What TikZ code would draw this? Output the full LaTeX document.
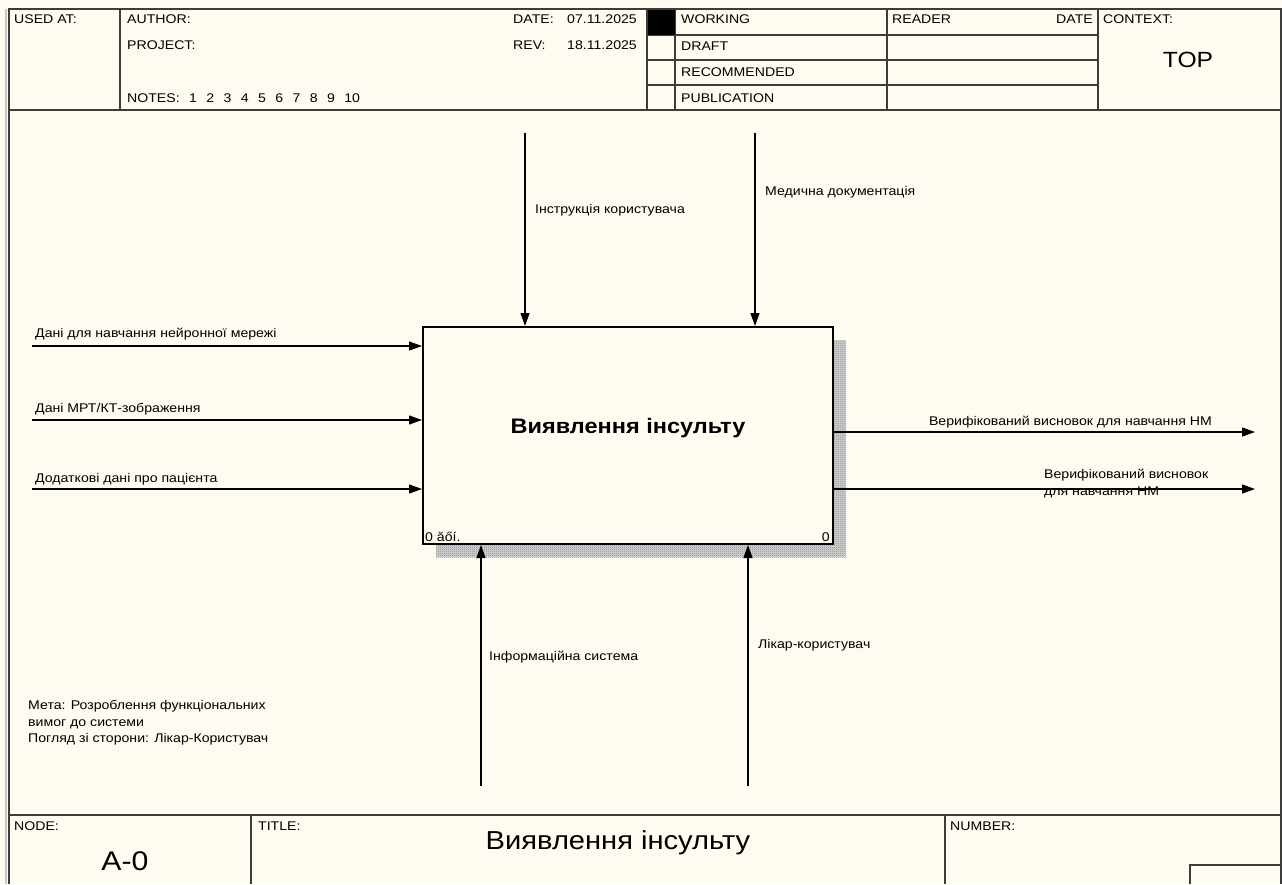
\documentclass[tikz,border=0pt]{standalone}
\usepackage{fontspec}
\setmainfont[FakeStretch=1.12]{Liberation Sans}
\usetikzlibrary{arrows.meta,patterns}
\definecolor{paper}{RGB}{255,251,240}
\definecolor{rulecol}{RGB}{60,60,60}

% fine checkerboard used for the box shadow
\pgfdeclarepatternformonly{finechecker}{\pgfqpoint{0pt}{0pt}}{\pgfqpoint{2pt}{2pt}}{\pgfqpoint{2pt}{2pt}}{%
  \pgfpathrectangle{\pgfqpoint{0pt}{0pt}}{\pgfqpoint{1pt}{1pt}}%
  \pgfpathrectangle{\pgfqpoint{1pt}{1pt}}{\pgfqpoint{1pt}{1pt}}%
  \pgfusepath{fill}}

\newcommand{\gap}{\hspace{9.4pt}}

\begin{document}
\begin{tikzpicture}[x=1pt,y=-1pt,
  frame/.style={draw=rulecol,line width=1.3pt},
  txt/.style={anchor=west,inner sep=0pt,font=\fontsize{12.6}{15}\selectfont},
  txtr/.style={anchor=east,inner sep=0pt,font=\fontsize{12.6}{15}\selectfont},
  big/.style={inner sep=0pt,font=\fontsize{22}{26}\selectfont},
  flow/.style={line width=1.2pt,-{Triangle[length=13pt,width=9pt]}},
  funcbox/.style={draw=black,line width=2pt,fill=paper,minimum width=410pt,minimum height=217pt,inner sep=0pt}
]
% page
\useasboundingbox (0,0) rectangle (1282,884);
\fill[paper] (0,0) rectangle (1282,884);

% outer frame
\draw[gray!45,line width=2pt] (6,9) -- (6,884);
\draw[frame] (9,884) -- (9,9) -- (1281,9) -- (1281,884);

% ---------- header ----------
\draw[frame] (9,110) -- (1281,110);
\draw[frame] (120,9) -- (120,110);
\draw[frame] (647,9) -- (647,110);
\draw[frame] (675,9) -- (675,110);
\draw[frame] (887,9) -- (887,110);
\draw[frame] (1098,9) -- (1098,110);
\foreach \yy in {35,60,85} \draw[frame] (647,\yy) -- (1098,\yy);
\fill[black] (648,10) rectangle (675,35);

\node[txt] (usedat) at (14,19) {USED AT:};
\node[txt] (author) at (127,19) {AUTHOR:};
\node[txt] (project) at (127,45) {PROJECT:};
\node[txt] (notes) at (127,98) {NOTES:\gap 1\gap 2\gap 3\gap 4\gap 5\gap 6\gap 7\gap 8\gap 9\gap 10};
\node[txt] (datelbl) at (513,19) {DATE:};
\node[txtr] (dateval) at (637,19) {07.11.2025};
\node[txt] (revlbl) at (513,45) {REV:};
\node[txtr] (revval) at (637,45) {18.11.2025};
\node[txt] (working) at (681,19) {WORKING};
\node[txt] (draft) at (681,46) {DRAFT};
\node[txt] (recom) at (681,72) {RECOMMENDED};
\node[txt] (publ) at (681,98) {PUBLICATION};
\node[txt] (reader) at (892,19) {READER};
\node[txtr] (rdate) at (1093,19) {DATE};
\node[txt] (context) at (1103,19) {CONTEXT:};
\node[big] (top) at (1188,60) {TOP};

% ---------- function box ----------
\fill[black!18] (436,340) rectangle (846,557);
\fill[pattern=finechecker,pattern color=black!45] (436,340) rectangle (846,557);
\node[funcbox] (A0) at (628,435.5) {};
\node[inner sep=0pt,font=\fontsize{21}{25}\selectfont\bfseries] (A0name) at (628,428) {Виявлення інсульту};
\node[txt,anchor=south west] (cost) at ([shift={(3,-3)}]A0.south west) {0 ăőí.};
\node[txt,anchor=south east] (num) at ([shift={(-4,-3)}]A0.south east) {0};

% inputs
\coordinate (i1) at (32,346);
\coordinate (i2) at (32,420);
\coordinate (i3) at (32,489);
\draw[flow] (i1) -- (A0.west |- i1);
\draw[flow] (i2) -- (A0.west |- i2);
\draw[flow] (i3) -- (A0.west |- i3);
\node[txt] (li1) at (35,334) {Дані для навчання нейронної мережі};
\node[txt] (li2) at (35,409) {Дані МРТ/КТ-зображення};
\node[txt] (li3) at (35,479) {Додаткові дані про пацієнта};

% controls
\coordinate (c1) at (525,133);
\coordinate (c2) at (755,133);
\draw[flow] (c1) -- (c1 |- A0.north);
\draw[flow] (c2) -- (c2 |- A0.north);
\node[txt] (lc1) at (535,210) {Інструкція користувача};
\node[txt] (lc2) at (765,192) {Медична документація};

% outputs
\coordinate (o1) at (1255,432);
\coordinate (o2) at (1255,489);
\draw[flow] (A0.east |- o1) -- (o1);
\draw[flow] (A0.east |- o2) -- (o2);
\node[txtr] (lo1) at (1212,422) {Верифікований висновок для навчання НМ};
\node[txt,align=left,font=\fontsize{12.6}{17}\selectfont] (lo2) at (1044,484) {Верифікований висновок\\для навчання НМ};

% mechanisms
\coordinate (m1) at (481,786);
\coordinate (m2) at (748,786);
\draw[flow] (m1) -- (m1 |- A0.south);
\draw[flow] (m2) -- (m2 |- A0.south);
\node[txt] (lm1) at (489,657) {Інформаційна система};
\node[txt] (lm2) at (758,645) {Лікар-користувач};

% purpose / viewpoint
\node[txt,align=left,font=\fontsize{12.6}{16.5}\selectfont] (purpose) at (28,723)
  {Мета: Розроблення функціональних\\вимог до системи\\Погляд зі сторони: Лікар-Користувач};

% ---------- footer ----------
\draw[frame] (9,815) -- (1281,815);
\draw[frame] (251,815) -- (251,884);
\draw[frame] (945,815) -- (945,884);
\draw[frame] (1190,884) -- (1190,865) -- (1281,865);
\node[txt] (nodelbl) at (14,826) {NODE:};
\node[inner sep=0pt,font=\fontsize{27}{31}\selectfont] (nodeno) at (125,861) {A-0};
\node[txt] (titlelbl) at (258,826) {TITLE:};
\node[inner sep=0pt,font=\fontsize{26}{30}\selectfont] (title) at (618,843) {Виявлення інсульту};
\node[txt] (numlbl) at (950,826) {NUMBER:};
\end{tikzpicture}
\end{document}
